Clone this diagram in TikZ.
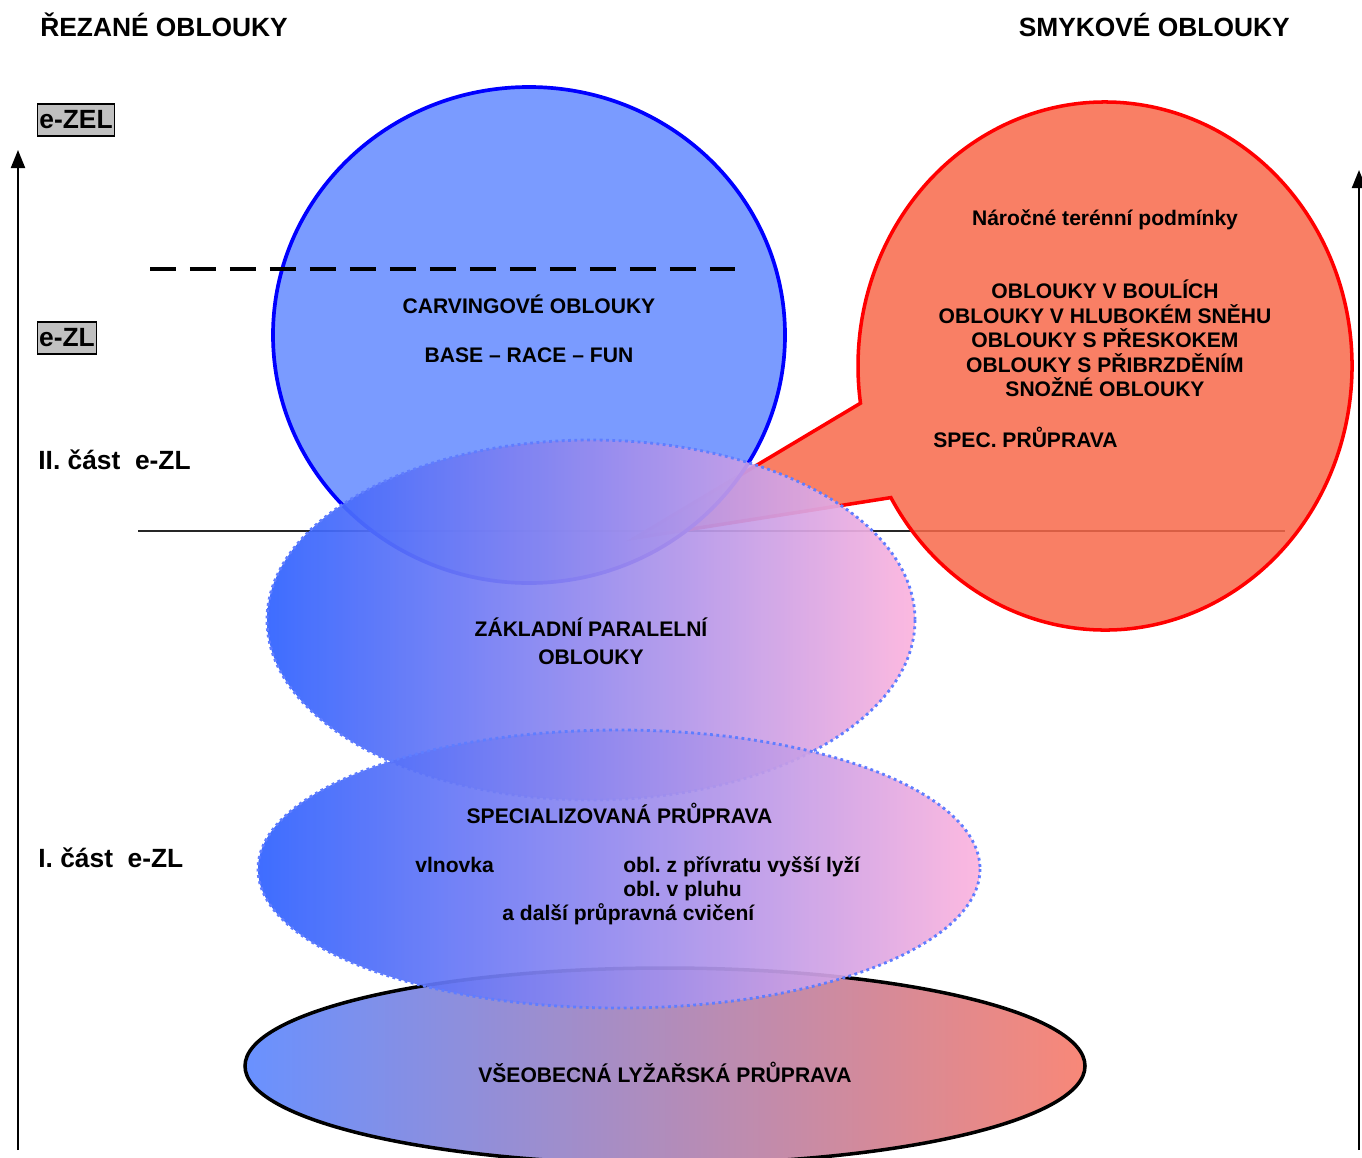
\documentclass[tikz,border=0pt]{standalone}
\usepackage{fontspec}
\setmainfont{Liberation Sans}
\frenchspacing
\usetikzlibrary{calc,arrows.meta}
\definecolor{carvblue}{RGB}{99,138,255}
\definecolor{smykred}{RGB}{248,104,74}
\definecolor{levelgray}{RGB}{192,192,192}
\definecolor{zoneblue}{RGB}{48,98,255}
\definecolor{zonemid}{RGB}{172,122,234}
\definecolor{zonepink}{RGB}{252,180,222}
\definecolor{dotblue}{RGB}{95,125,255}
\definecolor{baseblue}{RGB}{105,145,255}
\definecolor{basemid}{RGB}{185,150,232}
\definecolor{basesalmon}{RGB}{248,136,120}
\tikzset{
  head/.style={font=\fontsize{15}{18}\selectfont\bfseries, inner sep=0pt},
  txt/.style={font=\fontsize{12}{14}\selectfont\bfseries, inner sep=0pt},
  level/.style={head, fill=levelgray, draw=black, line width=0.9pt, inner xsep=1pt, minimum height=0.64cm},
  axisarrow/.style={line width=1.2pt, -{Triangle[length=0.36cm,width=0.28cm]}},
  zone/.style={fill opacity=0.93, draw=dotblue, dotted, line width=1.6pt,
    left color=zoneblue, middle color=zonemid, right color=zonepink},
}

\begin{document}
\begin{tikzpicture}[x=0.02cm,y=-0.02cm]
		%%%%% START %%%%%
		\useasboundingbox (0,0) rectangle (1362,1157);
		
		\draw[line width=0.6pt, black!85] (138,531) -- (1285,531);
		
		\draw[line width=2pt, left color=baseblue, middle color=basemid, right color=basesalmon] (665,1066) ellipse [x radius=420, y radius=98];
		
		\coordinate (callC) at (1105,366);
		\coordinate (tip) at (635,538);
		\draw[line width=2pt, draw=red, fill=smykred, fill opacity=0.85] ($(callC)+(150.1:247 and 264)$) arc[start angle=150.1, end angle=-188.1, x radius=247, y radius=264] -- (tip) -- cycle;
		
		\draw[line width=2.1pt, draw=blue, fill=carvblue, fill opacity=0.85] (529,335) ellipse [x radius=256, y radius=248];
		
		\draw[zone] (591,620) ellipse [x radius=324, y radius=180];
		\draw[zone] (619,869) ellipse [x radius=361, y radius=139];
		
		\draw[line width=2.3pt, dash pattern=on 0.52cm off 0.28cm] (150,269) -- (735,269);
		
		\coordinate (axL0) at (18,1150);
		\coordinate (axL1) at (18,150);
		\coordinate (axR0) at (1359,1150);
		\coordinate (axR1) at (1359,170);
		\draw[axisarrow] (axL0) -- (axL1);
		\draw[axisarrow] (axR0) -- (axR1);
		
		\node[head, anchor=base west] (rezane) at (40,36.5) {ŘEZANÉ OBLOUKY};
		\node[head, anchor=base east] (smykove) at (1290,36.5) {SMYKOVÉ OBLOUKY};
		\node[level] (ezel) at (76,120) {e-ZEL};
		\node[level] (ezl) at (67,338) {e-ZL};
		\node[head, anchor=base west] (cast2) at (38,469.5) {II. část\ \ e-ZL};
		\node[head, anchor=base west] (cast1) at (38,867.5) {I. část\ \ e-ZL};
		
		\node[txt, anchor=base] (carving) at (529,313) {CARVINGOVÉ OBLOUKY};
		\node[txt, anchor=base] (brf) at (529,362) {BASE -- RACE -- FUN};
		
		\node[txt, anchor=base] (narocne) at (1105,225) {Náročné terénní podmínky};
		\foreach \txt/\yb [count=\i] in {OBLOUKY V BOULÍCH/298, OBLOUKY V HLUBOKÉM SNĚHU/323, OBLOUKY S PŘESKOKEM/347, OBLOUKY S PŘIBRZDĚNÍM/372, SNOŽNÉ OBLOUKY/396}
			\node[txt, anchor=base] (smyk\i) at (1105,\yb) {\txt};
		\node[txt, anchor=base west] (specpr) at (933,447) {SPEC. PRŮPRAVA};
		
		\node[txt, anchor=base] (zakl1) at (591,636.5) {ZÁKLADNÍ PARALELNÍ};
		\node[txt, anchor=base] (zakl2) at (591,664) {OBLOUKY};
		
		\node[txt, anchor=base] (spec) at (619.5,823) {SPECIALIZOVANÁ PRŮPRAVA};
		\node[txt, anchor=base west] (vlnovka) at (415,872) {vlnovka};
		\node[txt, anchor=base west] (privrat) at (623,872) {obl. z přívratu vyšší lyží};
		\node[txt, anchor=base west] (pluh) at (623,896) {obl. v pluhu};
		\node[txt, anchor=base west] (dalsi) at (502,920) {a další průpravná cvičení};
		
		\node[txt, anchor=base] (vseob) at (665,1082) {VŠEOBECNÁ LYŽAŘSKÁ PRŮPRAVA};
		%%%%% END %%%%%
\end{tikzpicture}
\end{document}
